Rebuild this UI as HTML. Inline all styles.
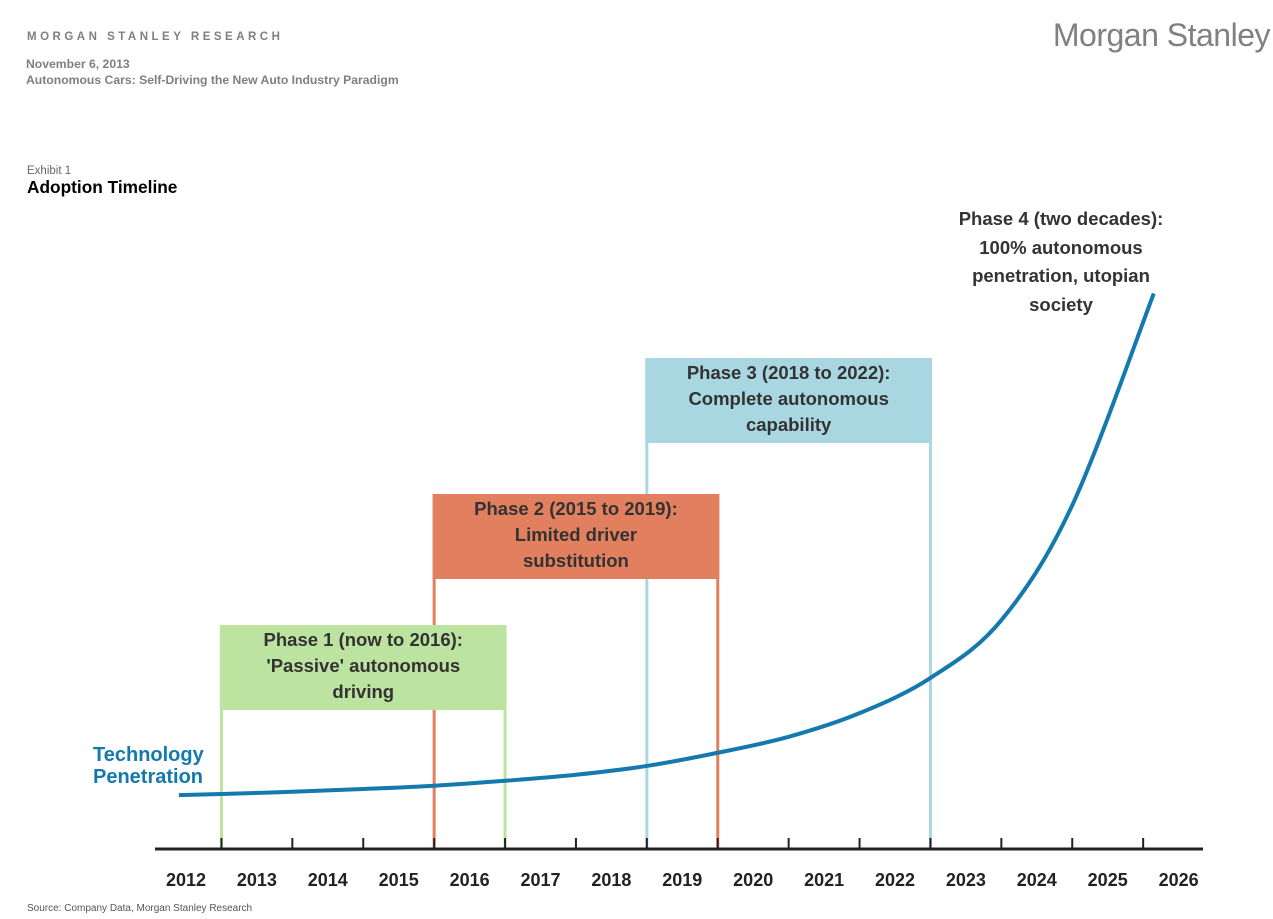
<!DOCTYPE html>
<html><head><meta charset="utf-8"><style>
body{margin:0;background:#fff;width:1273px;height:919px;overflow:hidden;font-family:"Liberation Sans",sans-serif}
svg{position:absolute;left:0;top:0}
</style></head><body>
<svg width="1273" height="919">
<text x="27" y="40" font-size="11.5" font-weight="bold" fill="#7f7f7f" letter-spacing="3.5">MORGAN STANLEY RESEARCH</text>
<text x="26" y="68" font-size="12.2" font-weight="bold" fill="#7f7f7f">November 6, 2013</text>
<text x="26" y="84" font-size="12.2" font-weight="bold" fill="#7f7f7f">Autonomous Cars: Self-Driving the New Auto Industry Paradigm</text>
<text x="1270" y="46" font-size="32" fill="#808080" text-anchor="end" letter-spacing="-0.5">Morgan Stanley</text>
<text x="27" y="174" font-size="11.5" fill="#666">Exhibit 1</text>
<text x="27" y="193" font-size="17.3" font-weight="bold" fill="#000">Adoption Timeline</text>
<text x="27" y="911" font-size="10" fill="#555">Source: Company Data, Morgan Stanley Research</text>
<g id="phases"></g>
<g id="axis"></g>
<path id="curve" fill="none" stroke="#1479ae" stroke-width="4"/>
<text x="93" y="761" font-size="20" font-weight="bold" fill="#1479ae">Technology</text>
<text x="93" y="783" font-size="20" font-weight="bold" fill="#1479ae">Penetration</text>
<g font-size="18.5" font-weight="bold" fill="#333" text-anchor="middle">
<text x="1061" y="225">Phase 4 (two decades):</text>
<text x="1061" y="254">100% autonomous</text>
<text x="1061" y="282">penetration, utopian</text>
<text x="1061" y="311">society</text>
</g>
</svg>
<script>
const years=[2012,2013,2014,2015,2016,2017,2018,2019,2020,2021,2022,2023,2024,2025,2026];
const curveYears=[2011.9,2012.5,2013.5,2014.5,2015.5,2016.5,2017.5,2018.5,2019.5,2020.5,2021.5,2022.5,2023.5,2024.5,2025.65];
const curveValues=[9.8,10,10.4,10.9,11.5,12.4,13.5,15.1,17.5,20.4,24.7,31.1,41.6,62.5,101];
const phaseNames=["phase1","phase2","phase3"];
const phaseStart=[2012.5,2015.5,2018.5];
const phaseEnd=[2016.5,2019.5,2022.5];
const phaseLines=[["Phase 1 (now to 2016):","'Passive' autonomous","driving"],["Phase 2 (2015 to 2019):","Limited driver","substitution"],["Phase 3 (2018 to 2022):","Complete autonomous","capability"]];
const phaseColors=["#bde3a0","#e27f5e","#a8d7e2"];
const X=v=>186+(v-2012)*70.9;
const Y=v=>849-v*5.5;
const NS="http://www.w3.org/2000/svg";
function mk(t,a,p){const e=document.createElementNS(NS,t);for(const k in a)e.setAttribute(k,a[k]);p.appendChild(e);return e;}
const ph=document.getElementById('phases');
const boxTop=[625,494,358];
for(let i=phaseNames.length-1;i>=0;i--){
 const n=phaseNames[i];
 const x1=X(phaseStart[i]),x2=X(phaseEnd[i]),t=boxTop[i];
 const g=mk('g',{},ph);
 
 
 mk('line',{x1:x1,x2:x1,y1:t,y2:849,stroke:phaseColors[i],'stroke-width':3},g);
 mk('line',{x1:x2,x2:x2,y1:t,y2:849,stroke:phaseColors[i],'stroke-width':3},g);
 mk('rect',{x:x1-1.5,y:t,width:x2-x1+3,height:85,fill:phaseColors[i]},g);
 phaseLines[i].forEach((s,j)=>{const tx=mk('text',{x:(x1+x2)/2,y:t+21+j*26,'font-size':18.5,'font-weight':'bold',fill:'#333','text-anchor':'middle'},g);tx.textContent=s;});
}
const ax=document.getElementById('axis');
const al=mk('line',{x1:155,x2:1203,y1:849,y2:849,stroke:'#222','stroke-width':3},ax);


years.forEach((y,i)=>{
 if(i<years.length-1){mk('line',{x1:X(y+0.5),x2:X(y+0.5),y1:838,y2:849,stroke:'#222','stroke-width':2},ax);}
 const t=mk('text',{x:X(y),y:886,'font-size':18,'font-weight':'bold',fill:'#222','text-anchor':'middle'},ax);
 
 
 t.textContent=y;
});
const P=curveYears.map((y,i)=>[X(y),Y(curveValues[i])]);
let d=`M${P[0][0]},${P[0][1]}`;
for(let i=0;i<P.length-1;i++){const p0=P[Math.max(0,i-1)],p1=P[i],p2=P[i+1],p3=P[Math.min(P.length-1,i+2)];
 d+=` C${p1[0]+(p2[0]-p0[0])/6},${p1[1]+(p2[1]-p0[1])/6} ${p2[0]-(p3[0]-p1[0])/6},${p2[1]-(p3[1]-p1[1])/6} ${p2[0]},${p2[1]}`;}
document.getElementById('curve').setAttribute('d',d);
</script>
</body></html>
